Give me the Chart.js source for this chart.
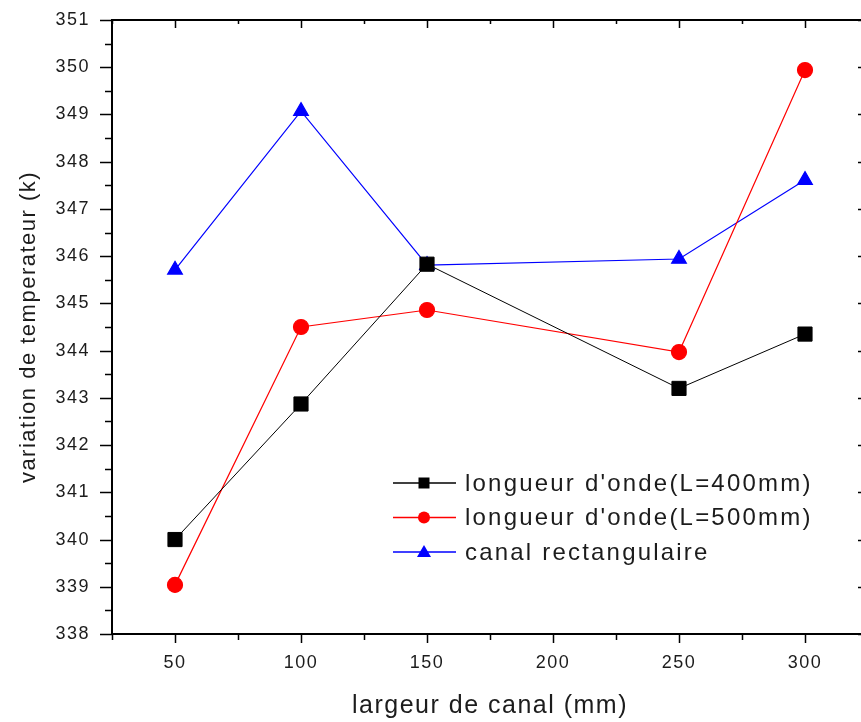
<!DOCTYPE html>
<html>
<head>
<meta charset="utf-8">
<script src="https://cdn.jsdelivr.net/npm/chart.js@4.4.1/dist/chart.umd.min.js"></script>
<style>
  html, body { margin: 0; padding: 0; background: #fff; overflow: hidden; }
  #wrap { width: 868px; height: 722px; }
</style>
</head>
<body>
<div id="wrap"><canvas id="chart" width="868" height="722"></canvas></div>
<script>
// valeurs
const largeurs = [50, 100, 150, 250, 300];
const temp400 = [340.0, 342.87, 345.83, 343.2, 344.35];
const temp500 = [339.04, 344.5, 344.86, 343.97, 349.94];
const tempRect = [345.71, 349.07, 345.81, 345.94, 347.61];
const nomsSeries = ["longueur d'onde(L=400mm)", "longueur d'onde(L=500mm)", "canal rectangulaire"];
const xLabels = [50, 100, 150, 200, 250, 300];
const yLabels = [338, 339, 340, 341, 342, 343, 344, 345, 346, 347, 348, 349, 350, 351];

const couleurTexte = '#1c1c1c';
const police = 'Arial, "Liberation Sans", sans-serif';

function points(ys) {
    return largeurs.map((x, i) => ({ x: x, y: ys[i] }));
}

// axes encadrés avec graduations majeures / mineures
const cadrePlugin = {
    id: 'cadre',
    beforeDraw(chart) {
        chart.ctx.letterSpacing = '1.5px';
    },
    afterDraw(chart) {
        const ctx = chart.ctx;
        const a = chart.chartArea;
        const sx = chart.scales.x, sy = chart.scales.y;
        ctx.save();
        ctx.strokeStyle = '#000';
        ctx.lineWidth = 2;
        ctx.strokeRect(a.left, a.top, a.right - a.left, a.bottom - a.top);
        ctx.lineWidth = 1.5;
        ctx.beginPath();
        sx.ticks.forEach(t => {
            const px = Math.round(sx.getPixelForValue(t.value)) + 0.5;
            const major = t.value % 50 === 0;
            // bas, vers l'extérieur
            ctx.moveTo(px, a.bottom);
            ctx.lineTo(px, a.bottom + (major ? 9 : 6));
            // haut, vers l'intérieur
            ctx.moveTo(px, a.top);
            ctx.lineTo(px, a.top + (major ? 8 : 4));
        });
        sy.ticks.forEach(t => {
            const py = Math.round(sy.getPixelForValue(t.value)) + 0.5;
            const major = Number.isInteger(t.value);
            ctx.moveTo(a.left, py);
            ctx.lineTo(a.left - (major ? 12 : 7), py);
            ctx.moveTo(a.right, py);
            ctx.lineTo(a.right - (major ? 10 : 5), py);
        });
        ctx.stroke();
        ctx.restore();

        // légende dans le graphique
        ctx.save();
        ctx.font = '24px ' + police;
        ctx.letterSpacing = '2.2px';
        ctx.textBaseline = 'middle';
        const x0 = 393, x1 = 456, xm = 424;
        chart.data.datasets.forEach((ds, i) => {
            const y = 483 + i * 34.5;
            ctx.strokeStyle = ds.borderColor;
            ctx.lineWidth = 1.5;
            ctx.beginPath();
            ctx.moveTo(x0, y);
            ctx.lineTo(x1, y);
            ctx.stroke();
            ctx.fillStyle = ds.pointBackgroundColor;
            ctx.beginPath();
            if (ds.pointStyle === 'rect') {
                ctx.rect(xm - 5.5, y - 5.5, 11, 11);
            } else if (ds.pointStyle === 'circle') {
                ctx.arc(xm, y, 6, 0, Math.PI * 2);
            } else {
                ctx.moveTo(xm, y - 7);
                ctx.lineTo(xm + 7, y + 5);
                ctx.lineTo(xm - 7, y + 5);
                ctx.closePath();
            }
            ctx.fill();
            ctx.fillStyle = couleurTexte;
            ctx.fillText(ds.label, 465, y + 1);
        });
        ctx.restore();
        chart.ctx.letterSpacing = '0px';
    }
};

new Chart(document.getElementById('chart'), {
    type: 'line',
    data: {
        datasets: [
            {
                label: nomsSeries[0],
                data: points(temp400),
                borderColor: '#000000',
                pointBackgroundColor: '#000000',
                pointBorderColor: '#000000',
                pointStyle: 'rect',
                pointRadius: 10,
                borderWidth: 1
            },
            {
                label: nomsSeries[1],
                data: points(temp500),
                borderColor: '#ff0000',
                pointBackgroundColor: '#ff0000',
                pointBorderColor: '#ff0000',
                pointStyle: 'circle',
                pointRadius: 7.5,
                borderWidth: 1.2
            },
            {
                label: nomsSeries[2],
                data: points(tempRect),
                borderColor: '#0000ff',
                pointBackgroundColor: '#0000ff',
                pointBorderColor: '#0000ff',
                pointStyle: 'triangle',
                pointRadius: 8.5,
                borderWidth: 1.2
            }
        ]
    },
    options: {
        responsive: false,
        animation: false,
        devicePixelRatio: 1,
        layout: { autoPadding: false, padding: { top: 20, right: 0, left: 0, bottom: 0 } },
        plugins: {
            legend: { display: false },
            tooltip: { enabled: false }
        },
        elements: { line: { tension: 0 } },
        scales: {
            x: {
                type: 'linear',
                min: 25,
                max: 325,
                afterFit: (s) => { s.height = 88; s.paddingLeft = 0; s.paddingRight = 0; },
                grid: { display: false, drawTicks: false },
                border: { display: false },
                ticks: {
                    stepSize: 25,
                    autoSkip: false,
                    maxRotation: 0,
                    padding: 18,
                    color: couleurTexte,
                    font: { family: police, size: 18 },
                    callback: (v) => xLabels.includes(v) ? String(v) : ''
                },
                title: {
                    display: true,
                    text: 'largeur de canal (mm)',
                    color: couleurTexte,
                    font: { family: police, size: 25 },
                    padding: { top: 0, bottom: 1 }
                }
            },
            y: {
                min: 338,
                max: 351,
                afterFit: (s) => { s.width = 112; s.paddingTop = 0; s.paddingBottom = 0; },
                grid: { display: false, drawTicks: false },
                border: { display: false },
                ticks: {
                    stepSize: 0.5,
                    autoSkip: false,
                    padding: 22,
                    color: couleurTexte,
                    font: { family: police, size: 18 },
                    callback: (v) => yLabels.includes(v) ? String(v) : ''
                },
                title: {
                    display: true,
                    text: 'variation de temperateur (k)',
                    color: couleurTexte,
                    font: { family: police, size: 22 },
                    padding: { top: 16, bottom: 0 }
                }
            }
        }
    },
    plugins: [cadrePlugin]
});
</script>
</body>
</html>
